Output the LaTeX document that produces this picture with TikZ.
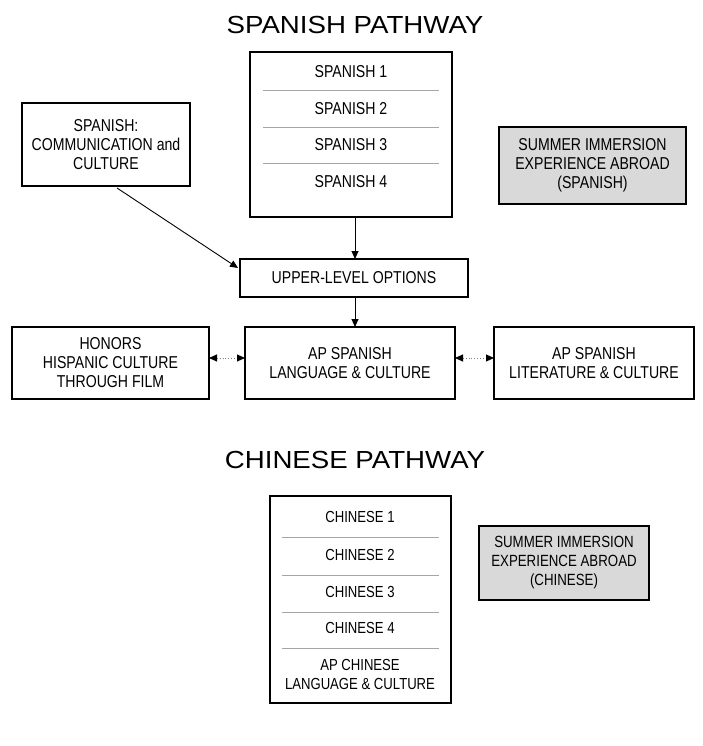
\documentclass[tikz,border=0pt]{standalone}
\usepackage{fontspec}
\setmainfont{Liberation Sans}[FakeStretch=0.82]
\newfontfamily\titlefont{Liberation Sans}[FakeStretch=1.12]
\usetikzlibrary{arrows.meta}
\begin{document}
\begin{tikzpicture}[x=1pt,y=-1pt,
  box/.style={draw,line width=2.8pt,inner sep=0pt,align=center,font=\fontsize{17.2}{19}\selectfont},
  gbox/.style={draw,line width=2pt,fill=gray!30,inner sep=0pt,align=center,font=\fontsize{17.2}{19}\selectfont},
  lbl/.style={font=\fontsize{17.2}{19}\selectfont,align=center},
  clbl/.style={font=\fontsize{16}{19}\selectfont,align=center},
  sep/.style={draw=gray!70,line width=0.8pt},
  title/.style={font=\titlefont\fontsize{24.7}{30}\selectfont},
  arr/.style={-{Triangle[length=8pt,width=7pt]},line width=0.9pt},
  darr/.style={{Triangle[length=8pt,width=7pt,color=black]}-{Triangle[length=8pt,width=7pt,color=black]},dotted,draw=gray,line width=0.9pt}]
\useasboundingbox (0,0) rectangle (703,746);
\node[title] (t1) at (355,25) {SPANISH PATHWAY};
\node[box,minimum width=202pt,minimum height=165pt] (sp) at (351,134.5) {};
\node[lbl] (s1) at (351,72) {SPANISH 1};
\node[lbl] (s2) at (351,109) {SPANISH 2};
\node[lbl] (s3) at (351,145) {SPANISH 3};
\node[lbl] (s4) at (351,182) {SPANISH 4};
\coordinate (a1) at (263,90); \coordinate (b1) at (439,90);
\coordinate (a2) at (263,127); \coordinate (b2) at (439,127);
\coordinate (a3) at (263,163); \coordinate (b3) at (439,163);
\draw[sep] (a1) -- (b1); \draw[sep] (a2) -- (b2); \draw[sep] (a3) -- (b3);
\node[box,minimum width=168pt,minimum height=83pt] (comm) at (106,144.5) {SPANISH:\\COMMUNICATION and\\CULTURE};
\node[gbox,minimum width=187pt,minimum height=77pt] (sum1) at (592.5,165.5) {SUMMER IMMERSION\\EXPERIENCE ABROAD\\(SPANISH)};
\node[box,minimum width=228pt,minimum height=38pt] (up) at (354,278) {UPPER-LEVEL OPTIONS};
\node[box,minimum width=210pt,minimum height=72pt] (ap) at (350,363) {AP SPANISH\\LANGUAGE \& CULTURE};
\node[box,minimum width=197pt,minimum height=72pt] (hon) at (110.5,363) {HONORS\\HISPANIC CULTURE\\THROUGH FILM};
\node[box,minimum width=200pt,minimum height=72pt] (lit) at (594,363) {AP SPANISH\\LITERATURE \& CULTURE};
\coordinate (sb) at (355,217);
\coordinate (ut) at (355,259);
\draw[arr] (sb) -- (ut);
\coordinate (cb) at (117,188);
\coordinate (ul) at (238,268);
\draw[arr] (cb) -- (ul);
\coordinate (ub) at (355,297);
\coordinate (at) at (355,327);
\draw[arr] (ub) -- (at);
\coordinate (h1) at (209,358); \coordinate (h2) at (245,358);
\draw[darr] (h1) -- (h2);
\coordinate (l1) at (455,358); \coordinate (l2) at (494,358);
\draw[darr] (l1) -- (l2);
\node[title] (t2) at (355,460) {CHINESE PATHWAY};
\node[box,minimum width=181pt,minimum height=207pt] (ch) at (360.5,599.5) {};
\node[clbl] (c1) at (360,517) {CHINESE 1};
\node[clbl] (c2) at (360,555) {CHINESE 2};
\node[clbl] (c3) at (360,592) {CHINESE 3};
\node[clbl] (c4) at (360,628) {CHINESE 4};
\node[clbl] (c5) at (360,674.5) {AP CHINESE\\LANGUAGE \& CULTURE};
\coordinate (d1) at (282,537); \coordinate (e1) at (439,537);
\coordinate (d2) at (282,575); \coordinate (e2) at (439,575);
\coordinate (d3) at (282,612); \coordinate (e3) at (439,612);
\coordinate (d4) at (282,648); \coordinate (e4) at (439,648);
\draw[sep] (d1) -- (e1); \draw[sep] (d2) -- (e2); \draw[sep] (d3) -- (e3); \draw[sep] (d4) -- (e4);
\node[gbox,minimum width=170pt,minimum height=74pt,font=\fontsize{16.2}{19}\selectfont] (sum2) at (564,563) {SUMMER IMMERSION\\EXPERIENCE ABROAD\\(CHINESE)};
\end{tikzpicture}
\end{document}
